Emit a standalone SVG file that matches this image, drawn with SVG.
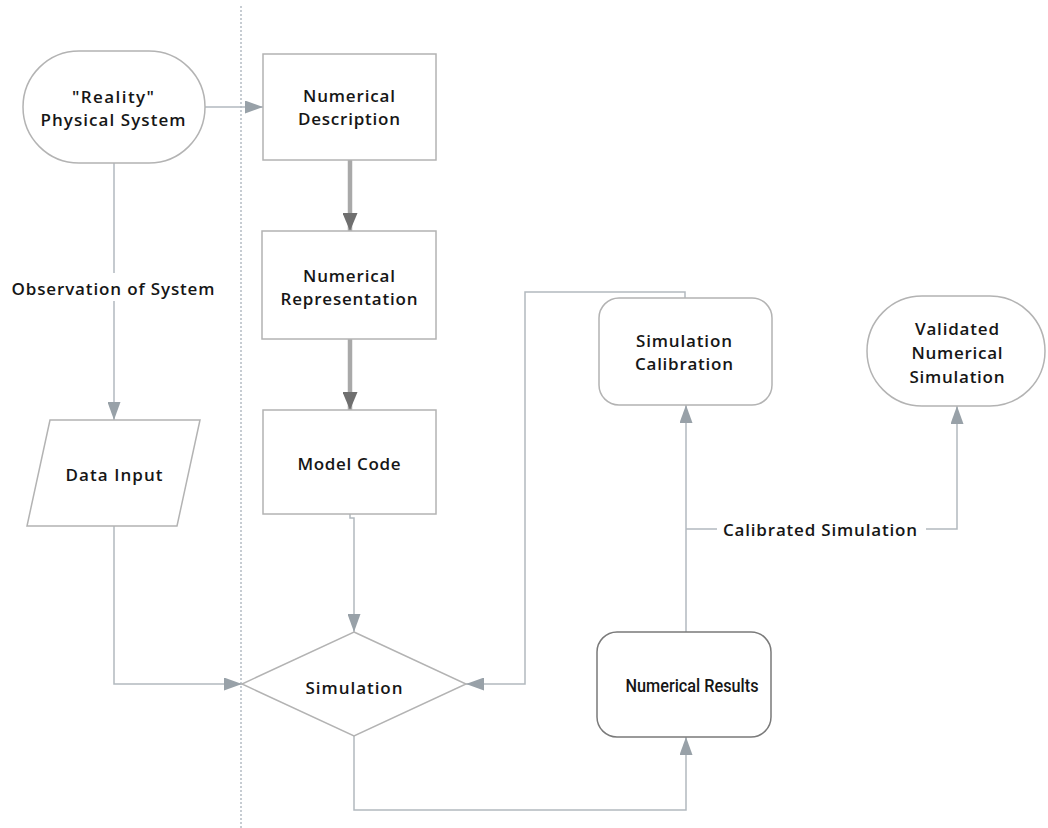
<svg xmlns="http://www.w3.org/2000/svg" width="1048" height="828" viewBox="0 0 1048 828">
<style>
.node{fill:#ffffff;stroke:#b3b3b3;stroke-width:1.5}
.dark{stroke:#7a7a7a}
.lbl{font-family:"Open Sans","Liberation Sans",sans-serif;font-weight:600;font-size:17px;fill:#161616;text-anchor:middle}
.cond{font-family:"Roboto","Liberation Sans",sans-serif;font-weight:500;font-size:18.5px;fill:#161616;text-anchor:middle}
.conn{fill:none;stroke:#b2b9bf;stroke-width:1.5}
.thick{fill:none;stroke:#a9a9a9;stroke-width:4.5}
.sep{fill:none;stroke:#b4bcc4;stroke-width:1.5;stroke-dasharray:2 2}
</style>
<defs>
<marker id="arr" markerUnits="userSpaceOnUse" viewBox="0 0 18 13" refX="18" refY="6.5" markerWidth="18" markerHeight="13" orient="auto">
<path d="M0,0 L18,6.5 L0,13 Z" fill="#98a1a8"/>
</marker>
<marker id="arrDark" markerUnits="userSpaceOnUse" viewBox="0 0 18 15" refX="18" refY="7.5" markerWidth="18" markerHeight="15" orient="auto">
<path d="M0,0 L18,7.5 L0,15 Z" fill="#6f6f6f"/>
</marker>
</defs>
<rect width="1048" height="828" fill="#ffffff"/>
<path class="sep" d="M241,6 V828"/>
<g id="connectors">
<path class="conn" d="M205,107 H263" marker-end="url(#arr)"/>
<path class="conn" d="M114,163 V273"/>
<path class="conn" d="M114,301 V420" marker-end="url(#arr)"/>
<text class="lbl" x="113" y="295" textLength="203">Observation of System</text>
<path class="conn" d="M114,526 V684 H242" marker-end="url(#arr)"/>
<path class="thick" d="M350,160 V231" marker-end="url(#arrDark)"/>
<path class="thick" d="M350,339 V410" marker-end="url(#arrDark)"/>
<path class="conn" d="M350,514 V518 H354 V632" marker-end="url(#arr)"/>
<path class="conn" d="M354,736 V810 H686 V737" marker-end="url(#arr)"/>
<path class="conn" d="M686,632 V405" marker-end="url(#arr)"/>
<path class="conn" d="M685,298 V292 H525 V684 H466" marker-end="url(#arr)"/>
<path class="conn" d="M686,529 H717"/>
<path class="conn" d="M926,529 H957 V406" marker-end="url(#arr)"/>
<text class="lbl" x="820" y="536" textLength="194">Calibrated Simulation</text>
</g>
<g id="reality">
<rect class="node" x="23" y="51" width="182" height="112" rx="56" ry="56"/>
<text class="lbl" x="113" y="103" textLength="82">"Reality"</text>
<text class="lbl" x="113" y="126" textLength="145">Physical System</text>
</g>
<g id="numerical-description">
<rect class="node" x="263" y="54" width="173" height="106"/>
<text class="lbl" x="349" y="102" textLength="92">Numerical</text>
<text class="lbl" x="349" y="125" textLength="102">Description</text>
</g>
<g id="numerical-representation">
<rect class="node" x="262" y="231" width="174" height="108"/>
<text class="lbl" x="349" y="282" textLength="92">Numerical</text>
<text class="lbl" x="349" y="305" textLength="137">Representation</text>
</g>
<g id="model-code">
<rect class="node" x="263" y="410" width="173" height="104"/>
<text class="lbl" x="349" y="470" textLength="103">Model Code</text>
</g>
<g id="data-input">
<polygon class="node" points="50,420 200,420 177,526 27,526"/>
<text class="lbl" x="114" y="481" textLength="97">Data Input</text>
</g>
<g id="simulation">
<polygon class="node" points="354,632 466,684 354,736 242,684"/>
<text class="lbl" x="354" y="694" textLength="97">Simulation</text>
</g>
<g id="simulation-calibration">
<rect class="node" x="599" y="298" width="173" height="107" rx="20" ry="20"/>
<text class="lbl" x="684" y="347" textLength="96">Simulation</text>
<text class="lbl" x="684" y="370" textLength="98">Calibration</text>
</g>
<g id="validated">
<rect class="node" x="867" y="296" width="178" height="110" rx="55" ry="55"/>
<text class="lbl" x="957" y="335" textLength="84">Validated</text>
<text class="lbl" x="957" y="359" textLength="91">Numerical</text>
<text class="lbl" x="957" y="383" textLength="95">Simulation</text>
</g>
<g id="numerical-results">
<rect class="node dark" x="597" y="632" width="174" height="105" rx="20" ry="20"/>
<text class="cond" x="692" y="692" textLength="133" lengthAdjust="spacingAndGlyphs">Numerical Results</text>
</g>
</svg>
